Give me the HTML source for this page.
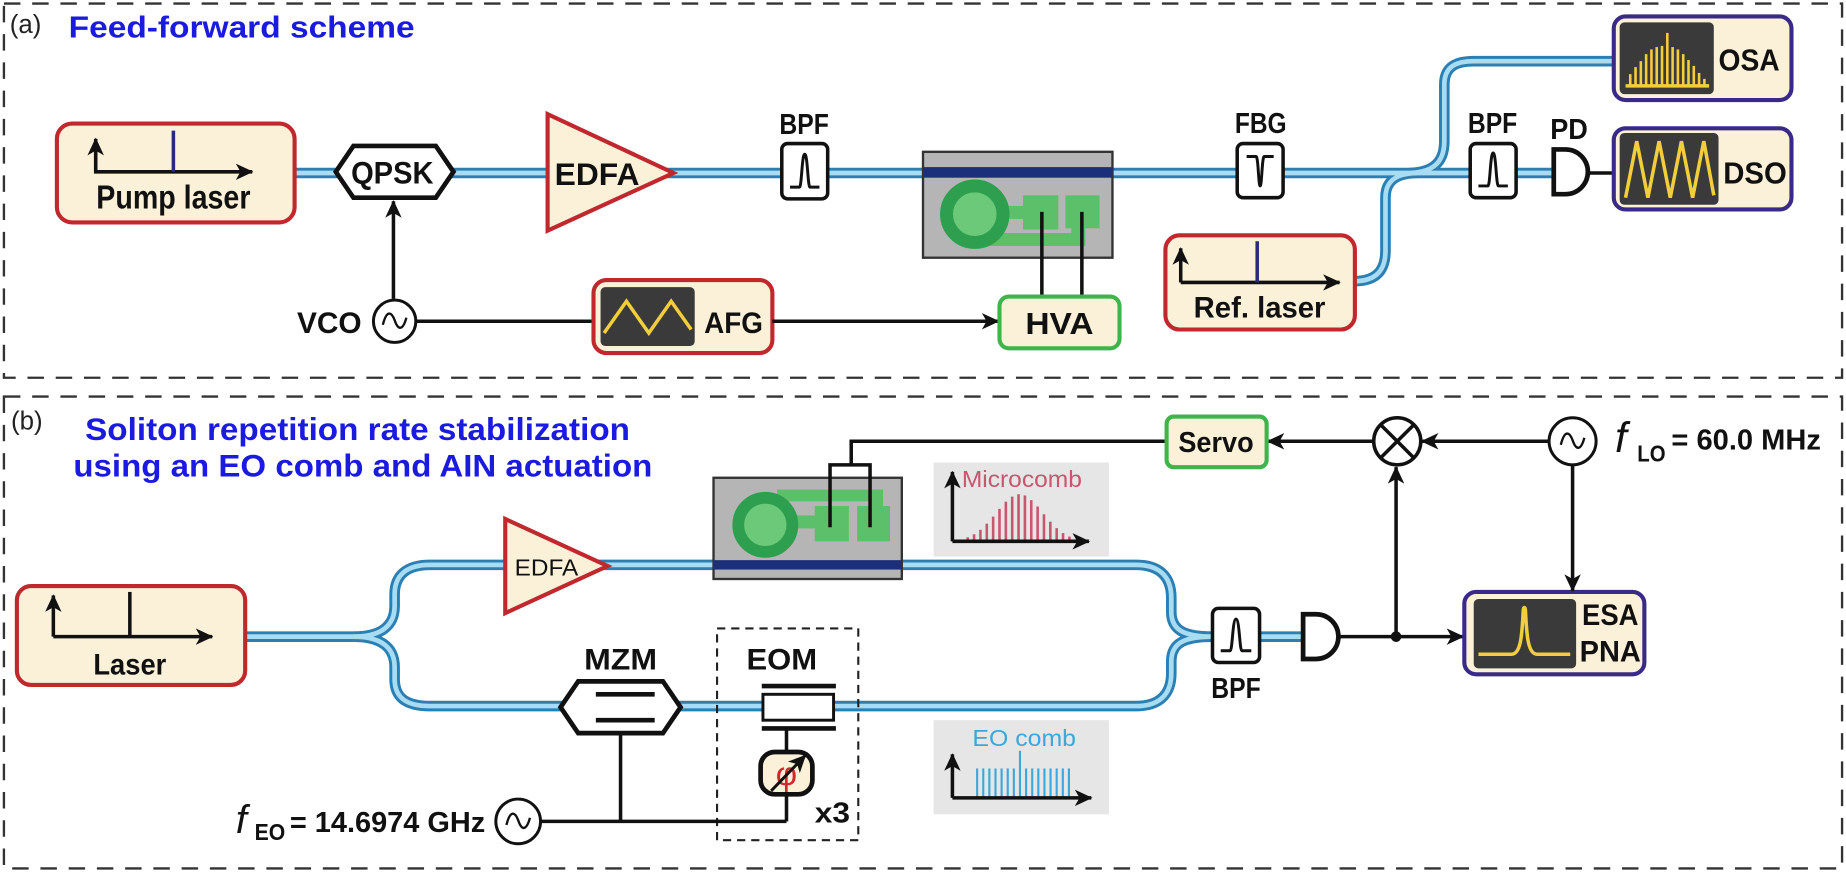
<!DOCTYPE html>
<html><head><meta charset="utf-8"><style>
html,body{margin:0;padding:0;background:#fff;}
svg{display:block;}
text{font-family:"Liberation Sans",Arial,sans-serif;}
.b{font-weight:bold;fill:#111;}
</style></head><body>
<svg width="1846" height="872" viewBox="0 0 1568 741" xmlns="http://www.w3.org/2000/svg">
<defs>
<marker id="ah" markerWidth="16" markerHeight="14" refX="14" refY="7" orient="auto" markerUnits="userSpaceOnUse">
<path d="M0,0 L15,7 L0,14 L4,7 Z" fill="#111"/>
</marker>
<path id="fa1" d="M250,147 H1195 C1215,147 1227,140 1227,120 V72 C1227,58 1235,52 1252,52 H1371"/>
<path id="fa2" d="M1150,239 C1168,239 1177,231 1177,213 V168 C1177,153 1187,147 1205,147 H1320"/>
<path id="fb0" d="M208,541 H300"/>
<path id="fb1" d="M300,541 C322,541 335,533 335,515 V505 C335,489 345,480 365,480 H965 C985,480 995,490 995,508 V520 C995,535 1005,541 1030,541 H1107"/>
<path id="fb2" d="M300,541 C322,541 335,549 335,567 V577 C335,593 345,600 365,600 H965 C985,600 995,590 995,572 V562 C995,547 1005,541 1030,541"/>
</defs>

<rect x="3" y="3" width="1562" height="318" fill="none" stroke="#333" stroke-width="2" stroke-dasharray="14 10"/>
<rect x="3" y="337" width="1562" height="401" fill="none" stroke="#333" stroke-width="2" stroke-dasharray="14 10"/>

<g fill="none" stroke="#2b7fb3" stroke-width="9">
<use href="#fa1"/><use href="#fa2"/><use href="#fb0"/><use href="#fb1"/><use href="#fb2"/>
</g>
<g fill="none" stroke="#a8dcf3" stroke-width="4">
<use href="#fa1"/><use href="#fa2"/><use href="#fb0"/><use href="#fb1"/><use href="#fb2"/>
</g>

<!-- ============ PANEL A ============ -->
<text x="8" y="28" font-size="22" fill="#222">(a)</text>
<text x="58" y="32" font-size="26" font-weight="bold" fill="#1a1ae0" textLength="294" lengthAdjust="spacingAndGlyphs">Feed-forward scheme</text>

<rect x="48" y="105" width="202" height="84" rx="13" fill="#fbf1d9" stroke="#c0282d" stroke-width="3.5"/>
<path d="M81,118 V146 H214" fill="none" stroke="#111" stroke-width="3" marker-end="url(#ah)"/>
<path d="M81,146 V118" fill="none" stroke="#111" stroke-width="3" marker-end="url(#ah)"/>
<line x1="147" y1="111" x2="147" y2="146" stroke="#2a2a7a" stroke-width="3"/>
<text x="147" y="177" class="b" font-size="28" text-anchor="middle" textLength="131" lengthAdjust="spacingAndGlyphs">Pump laser</text>

<polygon points="285,146 300,124 370,124 385,146 370,168 300,168" fill="#fff" stroke="#111" stroke-width="4"/>
<text x="333" y="156" class="b" font-size="27" text-anchor="middle" textLength="70" lengthAdjust="spacingAndGlyphs">QPSK</text>
<line x1="334" y1="254" x2="334" y2="171" stroke="#111" stroke-width="3" marker-end="url(#ah)"/>

<text x="307" y="283" class="b" font-size="25" text-anchor="end" textLength="55" lengthAdjust="spacingAndGlyphs">VCO</text>
<circle cx="335" cy="273" r="18" fill="#fff" stroke="#111" stroke-width="2.5"/>
<path d="M325,276 C328,264 332,264 335,272 C338,281 342,281 345,270" fill="none" stroke="#111" stroke-width="2"/>
<line x1="353" y1="273" x2="504" y2="273" stroke="#111" stroke-width="3"/>

<polygon points="465,97 465,196 572,147" fill="#fbf1d9" stroke="#c0282d" stroke-width="3.5"/>
<text x="507" y="157" class="b" font-size="27" text-anchor="middle" textLength="72" lengthAdjust="spacingAndGlyphs">EDFA</text>

<text x="683" y="114" class="b" font-size="24" text-anchor="middle" textLength="42" lengthAdjust="spacingAndGlyphs">BPF</text>
<rect x="664" y="122" width="39" height="47" rx="5" fill="#fff" stroke="#111" stroke-width="3"/>
<path d="M671,159 H679 C681,159 681,131 683.5,131 C686,131 686,159 688,159 H696" fill="none" stroke="#111" stroke-width="2.5"/>

<rect x="504" y="238" width="152" height="62" rx="11" fill="#fbf1d9" stroke="#c0282d" stroke-width="3.5"/>
<rect x="510" y="244" width="80" height="50" rx="4" fill="#3a3a3a"/>
<path d="M513,283 L532,256 L551,283 L570,256 L587,280" fill="none" stroke="#f2cd3c" stroke-width="3"/>
<text x="623" y="283" class="b" font-size="25" text-anchor="middle" textLength="50" lengthAdjust="spacingAndGlyphs">AFG</text>
<line x1="656" y1="273" x2="848" y2="273" stroke="#111" stroke-width="3" marker-end="url(#ah)"/>

<rect x="784" y="129" width="161" height="90" fill="#b5b5b5" stroke="#333" stroke-width="2"/>
<rect x="784" y="142" width="161" height="9" fill="#1b2f7a"/>
<rect x="840" y="198" width="82" height="11" fill="#5cbf6a"/>
<rect x="910" y="180" width="12" height="28" fill="#5cbf6a"/>
<rect x="850" y="175" width="22" height="11" fill="#5cbf6a"/>
<rect x="869" y="166" width="30" height="29" fill="#5cbf6a"/>
<rect x="905" y="166" width="29" height="28" fill="#5cbf6a"/>
<circle cx="828" cy="182" r="24" fill="#6cc97a" stroke="#2e9e4f" stroke-width="11"/>
<line x1="885" y1="180" x2="885" y2="253" stroke="#111" stroke-width="3"/>
<line x1="919" y1="180" x2="919" y2="253" stroke="#111" stroke-width="3"/>

<rect x="849" y="252" width="102" height="44" rx="8" fill="#fbf1d9" stroke="#3db54a" stroke-width="3.5"/>
<text x="900" y="284" class="b" font-size="26" text-anchor="middle" textLength="58" lengthAdjust="spacingAndGlyphs">HVA</text>

<text x="1071" y="113" class="b" font-size="24" text-anchor="middle" textLength="44" lengthAdjust="spacingAndGlyphs">FBG</text>
<rect x="1051" y="122" width="39" height="46" rx="5" fill="#fff" stroke="#111" stroke-width="3"/>
<path d="M1059,133 H1067 C1069,133 1069,158 1070.5,158 C1072,158 1072,133 1074,133 H1082" fill="none" stroke="#111" stroke-width="2.5"/>

<rect x="990" y="200" width="161" height="80" rx="12" fill="#fbf1d9" stroke="#c0282d" stroke-width="3.5"/>
<path d="M1003,240 H1138" fill="none" stroke="#111" stroke-width="3" marker-end="url(#ah)"/>
<path d="M1003,240 V211" fill="none" stroke="#111" stroke-width="3" marker-end="url(#ah)"/>
<line x1="1068" y1="205" x2="1068" y2="240" stroke="#2a2a7a" stroke-width="3"/>
<text x="1070" y="270" class="b" font-size="25" text-anchor="middle" textLength="112" lengthAdjust="spacingAndGlyphs">Ref. laser</text>

<text x="1268" y="113" class="b" font-size="24" text-anchor="middle" textLength="42" lengthAdjust="spacingAndGlyphs">BPF</text>
<rect x="1249" y="122" width="39" height="46" rx="5" fill="#fff" stroke="#111" stroke-width="3"/>
<path d="M1256,158 H1264 C1266,158 1266,130 1268.5,130 C1271,130 1271,158 1273,158 H1281" fill="none" stroke="#111" stroke-width="2.5"/>

<text x="1333" y="118" class="b" font-size="24" text-anchor="middle" textLength="32" lengthAdjust="spacingAndGlyphs">PD</text>
<path d="M1320,127 H1330 A19,19 0 0 1 1330,165 H1320 Z" fill="#fff" stroke="#111" stroke-width="4"/>
<line x1="1349" y1="147" x2="1371" y2="147" stroke="#111" stroke-width="3"/>

<rect x="1371" y="14" width="151" height="71" rx="10" fill="#fbf1d9" stroke="#3a2a88" stroke-width="3.5"/>
<rect x="1376" y="19" width="80" height="61" rx="4" fill="#3a3a3a"/>
<g stroke="#f2cd3c" stroke-width="2.2">
<line x1="1381" y1="73" x2="1452" y2="73" stroke-width="3"/>
<line x1="1385" y1="73" x2="1385" y2="63"/><line x1="1389.5" y1="73" x2="1389.5" y2="57"/>
<line x1="1394" y1="73" x2="1394" y2="52"/><line x1="1398.5" y1="73" x2="1398.5" y2="46"/>
<line x1="1403" y1="73" x2="1403" y2="42"/><line x1="1407.5" y1="73" x2="1407.5" y2="40"/>
<line x1="1412" y1="73" x2="1412" y2="39"/><line x1="1416.5" y1="73" x2="1416.5" y2="28"/>
<line x1="1421" y1="73" x2="1421" y2="40"/><line x1="1425.5" y1="73" x2="1425.5" y2="42"/>
<line x1="1430" y1="73" x2="1430" y2="46"/><line x1="1434.5" y1="73" x2="1434.5" y2="51"/>
<line x1="1439" y1="73" x2="1439" y2="56"/><line x1="1443.5" y1="73" x2="1443.5" y2="62"/>
<line x1="1448" y1="73" x2="1448" y2="67"/>
</g>
<text x="1486" y="60" class="b" font-size="26" text-anchor="middle" textLength="52" lengthAdjust="spacingAndGlyphs">OSA</text>

<rect x="1371" y="109" width="151" height="69" rx="10" fill="#fbf1d9" stroke="#3a2a88" stroke-width="3.5"/>
<rect x="1376" y="113" width="84" height="61" rx="4" fill="#3a3a3a"/>
<polyline points="1381,168 1390.5,120 1400,168 1409.5,120 1419,168 1428.5,120 1438,168 1447.5,120 1456,166" fill="none" stroke="#f2cd3c" stroke-width="3"/>
<text x="1491" y="156" class="b" font-size="26" text-anchor="middle" textLength="54" lengthAdjust="spacingAndGlyphs">DSO</text>

<!-- ============ PANEL B ============ -->
<text x="9" y="365" font-size="22" fill="#222">(b)</text>
<text x="72" y="374" font-size="27" font-weight="bold" fill="#1a1ae0" textLength="463" lengthAdjust="spacingAndGlyphs">Soliton repetition rate stabilization</text>
<text x="62" y="405" font-size="27" font-weight="bold" fill="#1a1ae0" textLength="492" lengthAdjust="spacingAndGlyphs">using an EO comb and AIN actuation</text>

<rect x="14" y="498" width="194" height="84" rx="12" fill="#fbf1d9" stroke="#c0282d" stroke-width="3.5"/>
<path d="M45,541 H180" fill="none" stroke="#111" stroke-width="3" marker-end="url(#ah)"/>
<path d="M45,541 V506" fill="none" stroke="#111" stroke-width="3" marker-end="url(#ah)"/>
<line x1="110" y1="503" x2="110" y2="541" stroke="#111" stroke-width="3"/>
<text x="110" y="573" class="b" font-size="25" text-anchor="middle" textLength="62" lengthAdjust="spacingAndGlyphs">Laser</text>

<polygon points="429,441 429,521 516,481" fill="#fbf1d9" stroke="#c0282d" stroke-width="3.5"/>
<text x="464" y="489" font-size="20" fill="#111" text-anchor="middle" textLength="54" lengthAdjust="spacingAndGlyphs">EDFA</text>

<rect x="606" y="406" width="160" height="86" fill="#b5b5b5" stroke="#333" stroke-width="2"/>
<rect x="606" y="476" width="160" height="8" fill="#1b2f7a"/>
<rect x="660" y="416" width="86" height="10" fill="#5cbf6a"/>
<rect x="740" y="416" width="10" height="20" fill="#5cbf6a"/>
<rect x="672" y="438" width="22" height="11" fill="#5cbf6a"/>
<rect x="692" y="430" width="29" height="30" fill="#5cbf6a"/>
<rect x="728" y="430" width="28" height="30" fill="#5cbf6a"/>
<circle cx="650" cy="446" r="23" fill="#6cc97a" stroke="#2e9e4f" stroke-width="10"/>
<path d="M705,448 V395 H739 V448" fill="none" stroke="#111" stroke-width="3"/>
<path d="M723,395 V375 H991" fill="none" stroke="#111" stroke-width="3"/>

<rect x="793" y="393" width="149" height="80" fill="#e6e6e6"/>
<text x="868" y="414" font-size="20" fill="#c8566e" text-anchor="middle" textLength="102" lengthAdjust="spacingAndGlyphs">Microcomb</text>
<g stroke="#c8566e" stroke-width="2.2">
<line x1="822" y1="460" x2="822" y2="456.6"/><line x1="827.4" y1="460" x2="827.4" y2="454"/>
<line x1="832.8" y1="460" x2="832.8" y2="450.2"/><line x1="838.2" y1="460" x2="838.2" y2="445"/>
<line x1="843.6" y1="460" x2="843.6" y2="439"/><line x1="849" y1="460" x2="849" y2="432.4"/>
<line x1="854.4" y1="460" x2="854.4" y2="426.3"/><line x1="859.8" y1="460" x2="859.8" y2="422"/>
<line x1="865.2" y1="460" x2="865.2" y2="420"/><line x1="870.6" y1="460" x2="870.6" y2="421"/>
<line x1="876" y1="460" x2="876" y2="425"/><line x1="881.4" y1="460" x2="881.4" y2="430.4"/>
<line x1="886.8" y1="460" x2="886.8" y2="437"/><line x1="892.2" y1="460" x2="892.2" y2="443.3"/>
<line x1="897.6" y1="460" x2="897.6" y2="448.8"/><line x1="903" y1="460" x2="903" y2="453"/>
<line x1="908.4" y1="460" x2="908.4" y2="456"/>
</g>
<path d="M809,460 H925" fill="none" stroke="#111" stroke-width="3" marker-end="url(#ah)"/>
<path d="M809,460 V401" fill="none" stroke="#111" stroke-width="3" marker-end="url(#ah)"/>

<rect x="793" y="612" width="149" height="80" fill="#e6e6e6"/>
<text x="870" y="634" font-size="20" fill="#3ba7db" text-anchor="middle" textLength="88" lengthAdjust="spacingAndGlyphs">EO comb</text>
<g stroke="#3ba7db" stroke-width="1.8">
<line x1="830" y1="678" x2="830" y2="653"/><line x1="835.2" y1="678" x2="835.2" y2="653"/>
<line x1="840.4" y1="678" x2="840.4" y2="653"/><line x1="845.6" y1="678" x2="845.6" y2="653"/>
<line x1="850.8" y1="678" x2="850.8" y2="653"/><line x1="856" y1="678" x2="856" y2="653"/>
<line x1="861.2" y1="678" x2="861.2" y2="653"/><line x1="866.4" y1="678" x2="866.4" y2="638"/>
<line x1="871.6" y1="678" x2="871.6" y2="653"/><line x1="876.8" y1="678" x2="876.8" y2="653"/>
<line x1="882" y1="678" x2="882" y2="653"/><line x1="887.2" y1="678" x2="887.2" y2="653"/>
<line x1="892.4" y1="678" x2="892.4" y2="653"/><line x1="897.6" y1="678" x2="897.6" y2="653"/>
<line x1="902.8" y1="678" x2="902.8" y2="653"/><line x1="908" y1="678" x2="908" y2="653"/>
</g>
<path d="M809,678 H927" fill="none" stroke="#111" stroke-width="3" marker-end="url(#ah)"/>
<path d="M809,678 V641" fill="none" stroke="#111" stroke-width="3" marker-end="url(#ah)"/>

<text x="527" y="569" class="b" font-size="25" text-anchor="middle" textLength="62" lengthAdjust="spacingAndGlyphs">MZM</text>
<polygon points="476,601 491,579 563,579 578,601 563,623 491,623" fill="#fff" stroke="#111" stroke-width="4"/>
<line x1="506" y1="590" x2="556" y2="590" stroke="#111" stroke-width="4"/>
<line x1="506" y1="612" x2="556" y2="612" stroke="#111" stroke-width="4"/>
<line x1="527" y1="623" x2="527" y2="698" stroke="#111" stroke-width="3"/>

<rect x="609" y="534" width="120" height="180" fill="none" stroke="#222" stroke-width="1.8" stroke-dasharray="7 5"/>
<text x="664" y="569" class="b" font-size="25" text-anchor="middle" textLength="60" lengthAdjust="spacingAndGlyphs">EOM</text>
<line x1="647" y1="583" x2="710" y2="583" stroke="#111" stroke-width="4"/>
<rect x="648" y="590" width="60" height="22" fill="#fff" stroke="#111" stroke-width="2.5"/>
<line x1="647" y1="619" x2="710" y2="619" stroke="#111" stroke-width="4"/>
<line x1="668" y1="619" x2="668" y2="639" stroke="#111" stroke-width="3"/>
<rect x="646" y="639" width="44" height="36" rx="12" fill="#fbf1d9" stroke="#111" stroke-width="4"/>
<text x="668" y="667" font-family="Liberation Serif,serif" font-size="28" fill="#d4262c" text-anchor="middle">φ</text>
<line x1="655" y1="672" x2="684" y2="642" stroke="#111" stroke-width="2.5" marker-end="url(#ah)"/>
<line x1="668" y1="675" x2="668" y2="698" stroke="#111" stroke-width="3"/>
<text x="707" y="699" class="b" font-size="24" text-anchor="middle" textLength="30" lengthAdjust="spacingAndGlyphs">x3</text>

<line x1="460" y1="698" x2="668" y2="698" stroke="#111" stroke-width="3"/>
<circle cx="440" cy="698" r="19" fill="#fff" stroke="#111" stroke-width="2.5"/>
<path d="M430,701 C433,689 437,689 440,697 C443,706 447,706 450,695" fill="none" stroke="#111" stroke-width="2"/>
<text x="200" y="708" font-family="Liberation Serif,serif" font-style="italic" font-size="34" fill="#111">f</text>
<text x="216" y="714" class="b" font-size="20" textLength="26" lengthAdjust="spacingAndGlyphs">EO</text>
<text x="246" y="707" class="b" font-size="24" textLength="166" lengthAdjust="spacingAndGlyphs">= 14.6974 GHz</text>

<rect x="1030" y="517" width="40" height="46" rx="5" fill="#fff" stroke="#111" stroke-width="3"/>
<path d="M1037,553 H1045 C1047,553 1047,526 1050,526 C1053,526 1053,553 1055,553 H1063" fill="none" stroke="#111" stroke-width="2.5"/>
<text x="1050" y="593" class="b" font-size="24" text-anchor="middle" textLength="42" lengthAdjust="spacingAndGlyphs">BPF</text>

<path d="M1107,522 H1118 A19,19 0 0 1 1118,560 H1107 Z" fill="#fff" stroke="#111" stroke-width="4"/>
<line x1="1137" y1="541" x2="1243" y2="541" stroke="#111" stroke-width="3" marker-end="url(#ah)"/>
<circle cx="1186" cy="541" r="4.5" fill="#111"/>
<line x1="1186" y1="541" x2="1186" y2="397" stroke="#111" stroke-width="3" marker-end="url(#ah)"/>

<rect x="1244" y="503" width="153" height="70" rx="10" fill="#fbf1d9" stroke="#3a2a88" stroke-width="3.5"/>
<rect x="1252" y="509" width="87" height="59" rx="4" fill="#3a3a3a"/>
<path d="M1256,556 H1284 C1292,556 1293,540 1294,520 C1294,515 1296,515 1296,520 C1297,540 1298,556 1306,556 H1334" fill="none" stroke="#f2cd3c" stroke-width="3"/>
<text x="1368" y="531" class="b" font-size="25" text-anchor="middle" textLength="48" lengthAdjust="spacingAndGlyphs">ESA</text>
<text x="1368" y="562" class="b" font-size="25" text-anchor="middle" textLength="52" lengthAdjust="spacingAndGlyphs">PNA</text>

<circle cx="1187" cy="375" r="20" fill="#fff" stroke="#111" stroke-width="3"/>
<line x1="1173" y1="361" x2="1201" y2="389" stroke="#111" stroke-width="3"/>
<line x1="1201" y1="361" x2="1173" y2="389" stroke="#111" stroke-width="3"/>
<circle cx="1336" cy="375" r="20" fill="#fff" stroke="#111" stroke-width="2.5"/>
<path d="M1326,378 C1329,366 1333,366 1336,374 C1339,383 1343,383 1346,372" fill="none" stroke="#111" stroke-width="2"/>
<line x1="1316" y1="375" x2="1208" y2="375" stroke="#111" stroke-width="3" marker-end="url(#ah)"/>
<line x1="1167" y1="375" x2="1077" y2="375" stroke="#111" stroke-width="3" marker-end="url(#ah)"/>
<line x1="1336" y1="395" x2="1336" y2="502" stroke="#111" stroke-width="3" marker-end="url(#ah)"/>
<rect x="991" y="354" width="85" height="43" rx="6" fill="#fbf1d9" stroke="#3db54a" stroke-width="3.5"/>
<text x="1033" y="384" class="b" font-size="24" text-anchor="middle" textLength="64" lengthAdjust="spacingAndGlyphs">Servo</text>
<text x="1372" y="384" font-family="Liberation Serif,serif" font-style="italic" font-size="36" fill="#111">f</text>
<text x="1391" y="392" class="b" font-size="20" textLength="24" lengthAdjust="spacingAndGlyphs">LO</text>
<text x="1420" y="382" class="b" font-size="24" textLength="127" lengthAdjust="spacingAndGlyphs">= 60.0 MHz</text>
</svg>
</body></html>
